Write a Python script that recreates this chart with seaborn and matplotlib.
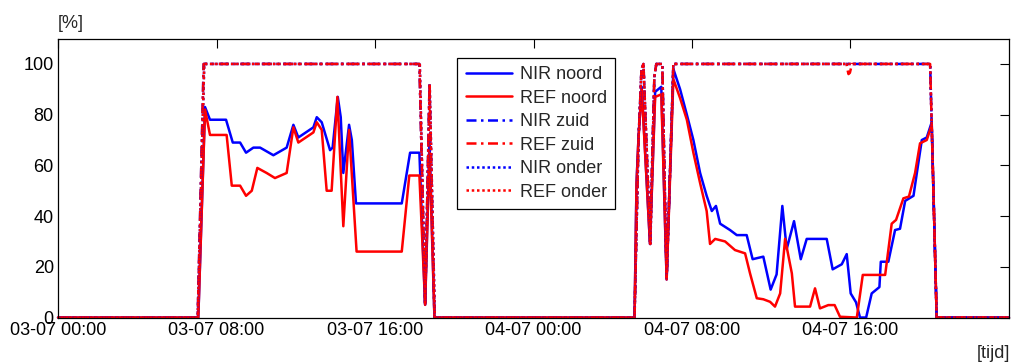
import numpy as np
import matplotlib
matplotlib.use("Agg")
import matplotlib.pyplot as plt
import seaborn as sns

# ---------------- data (hours since 03-07 00:00, percent) ----------------
tick_hours = [0, 8, 16, 24, 32, 40]
tick_labels = ["03-07 00:00", "03-07 08:00", "03-07 16:00",
               "04-07 00:00", "04-07 08:00", "04-07 16:00"]

nir_noord_h = [0, 7.08, 7.42, 7.67, 8.48, 8.82, 9.19, 9.49, 9.86, 10.2, 10.87, 11.54,
               11.88, 12.13, 12.89, 13.06, 13.31, 13.73, 13.86, 14.12, 14.27, 14.4,
               14.69, 14.83, 15.04, 17.35, 17.77, 18.24, 18.53, 18.75, 19.0,
               29.1, 29.2, 29.3, 29.46, 29.88, 30.14, 30.45, 30.72, 31.06, 31.4,
               31.74, 32.07, 32.41, 32.74, 33.0, 33.21, 33.42, 33.92, 34.26, 34.76,
               35.06, 35.6, 35.97, 36.27, 36.56, 36.78, 37.15, 37.49, 37.79, 38.8,
               39.1, 39.56, 39.81, 40.01, 40.28, 40.48, 40.79, 41.07, 41.46, 41.53,
               41.91, 42.25, 42.5, 42.76, 43.18, 43.35, 43.6, 43.85, 44.1, 44.35, 48]
nir_noord_v = [0, 0, 83, 78, 78, 69, 69, 65, 67, 67, 64, 67,
               76, 71, 75, 79, 77, 66, 67, 87, 79, 57,
               76, 70, 45, 45, 65, 65, 5, 70, 0,
               0, 53, 71, 91, 29, 89, 91, 15, 98, 90,
               80, 70, 57, 48, 42, 44, 37, 34.5, 32.5, 32.5,
               23, 24, 11, 17, 44, 27, 38, 23, 31, 31,
               19, 21, 25, 9.5, 6, 0, 0, 9.5, 12, 22,
               22, 34.5, 35, 46, 48, 57, 70, 71, 77, 0, 0]

ref_noord_h = [0, 7.08, 7.42, 7.67, 8.51, 8.77, 9.19, 9.49, 9.78, 10.06, 10.53, 10.95,
               11.54, 11.88, 12.13, 12.89, 13.06, 13.31, 13.56, 13.81, 14.1, 14.4,
               14.69, 15.07, 17.35, 17.73, 18.24, 18.53, 18.75, 19.0,
               29.1, 29.2, 29.3, 29.46, 29.88, 30.14, 30.45, 30.72, 31.06, 31.4,
               31.74, 32.07, 32.41, 32.74, 32.91, 33.17, 33.67, 34.17, 34.68, 34.93,
               35.27, 35.6, 35.94, 36.19, 36.45, 36.7, 37.04, 37.2, 37.96, 38.21,
               38.46, 38.88, 39.2, 39.47, 40.32, 40.62, 41.75, 42.08, 42.3, 42.67,
               42.95, 43.26, 43.51, 43.85, 44.1, 44.35, 48]
ref_noord_v = [0, 0, 82, 72, 72, 52, 52, 48, 50, 59, 57, 55,
               57, 75, 69, 73, 77, 74, 50, 50, 87, 36,
               74, 26, 26, 56, 56, 5, 65, 0,
               0, 53, 71, 90, 29, 87, 88, 15, 94, 86.5,
               78, 65, 53, 42, 29, 31, 30, 26.6, 25.3, 17.4,
               7.6, 7.2, 6.2, 4.3, 9.5, 31, 17.4, 4.3, 4.3, 11.5,
               3.6, 4.9, 4.9, 0.3, 0, 16.8, 16.8, 37, 38.5, 47,
               47.7, 57, 68.7, 70, 76, 0, 0]

nir_zuid_h = [0, 7.05, 7.35, 18.24, 18.53, 18.75, 19.0,
              29.1, 29.3, 29.45, 29.55, 29.88, 30.1, 30.2, 30.5, 30.72, 31.06,
              44.02, 44.35, 48]
nir_zuid_v = [0, 0, 100, 100, 5, 92, 0,
              0, 70, 98, 100, 30, 95, 100, 100, 15, 100,
              100, 0, 0]

ref_zuid_h = [0, 7.05, 7.35, 18.24, 18.53, 18.75, 19.0,
              29.1, 29.3, 29.45, 29.55, 29.88, 30.1, 30.2, 30.5, 30.72, 31.06,
              39.8, 39.84, 39.9, 39.97, 40.03, 40.08, 44.02, 44.35, 48]
ref_zuid_v = [0, 0, 100, 100, 5, 92, 0,
              0, 70, 98, 100, 30, 95, 100, 100, 15, 100,
              100, 98, 96, 96.5, 98.5, 100, 100, 0, 0]

nir_onder_h = [0, 7.05, 7.38, 18.26, 18.53, 18.76, 19.02,
               29.1, 29.3, 29.45, 29.55, 29.9, 30.1, 30.2, 30.5, 30.72, 31.06,
               44.02, 44.35, 48]
nir_onder_v = [0, 0, 100, 100, 5, 92, 0,
               0, 70, 98, 100, 29, 95, 100, 100, 15, 100,
               100, 0, 0]

ref_onder_h = [0, 7.05, 7.38, 18.26, 18.53, 18.76, 19.02,
               29.1, 29.3, 29.45, 29.55, 29.9, 30.1, 30.2, 30.5, 30.72, 31.06,
               44.02, 44.35, 48]
ref_onder_v = [0, 0, 100, 100, 5, 92, 0,
               0, 70, 98, 100, 29, 95, 100, 100, 15, 100,
               100, 0, 0]

# ---------------- styling ----------------
sns.set_style("white")
plt.rcParams["font.family"] = ["Liberation Sans", "DejaVu Sans"]
plt.rcParams["font.size"] = 13

fig = plt.figure(figsize=(10.11, 3.63), dpi=100)
ax = fig.add_axes([0.0574, 0.1253, 0.9406, 0.7684])

BLUE = "#0000ff"
RED = "#ff0000"
DASHDOT = (0, (4, 1.8, 1, 1.8))
DOT = (0, (1, 1.1))
LW = 1.8

series = [
    (nir_noord_h, nir_noord_v, BLUE, "-", "NIR noord"),
    (ref_noord_h, ref_noord_v, RED, "-", "REF noord"),
    (nir_zuid_h, nir_zuid_v, BLUE, DASHDOT, "NIR zuid"),
    (ref_zuid_h, ref_zuid_v, RED, DASHDOT, "REF zuid"),
    (nir_onder_h, nir_onder_v, BLUE, DOT, "NIR onder"),
    (ref_onder_h, ref_onder_v, RED, DOT, "REF onder"),
]
for h, v, c, ls, lab in series:
    sns.lineplot(x=np.array(h), y=np.array(v), ax=ax, color=c, linestyle=ls,
                 linewidth=LW, label=lab, estimator=None, sort=False, clip_on=False)

ax.set_xlim(0, 48)
ax.set_ylim(0, 110)
ax.set_xticks(tick_hours)
ax.set_xticklabels(tick_labels)
ax.set_yticks([0, 20, 40, 60, 80, 100])
ax.set_xlabel("")
ax.set_ylabel("")
ax.tick_params(axis="both", direction="in", length=6.5, width=0.8, colors="black",
               labelsize=13, top=True, right=True)
ax.tick_params(axis="x", pad=3)
ax.tick_params(axis="y", pad=3)
for s in ax.spines.values():
    s.set_visible(True)
    s.set_color("black")
    s.set_linewidth(0.9)
ax.grid(False)

leg = ax.legend(loc="upper left", bbox_to_anchor=(0.42, 0.93), frameon=True,
                fancybox=False, edgecolor="black", framealpha=1, fontsize=13,
                handlelength=2.6, handletextpad=0.4, labelspacing=0.36,
                borderpad=0.45, borderaxespad=0)
leg.get_frame().set_linewidth(0.9)

fig.text(58 / 1011, 1 - 23 / 363, "[%]", ha="left", va="center", fontsize=13)
fig.text(1010 / 1011, 1 - 354 / 363, "[tijd]", ha="right", va="center", fontsize=13)

fig.savefig("out.png", dpi=100, facecolor="white")
